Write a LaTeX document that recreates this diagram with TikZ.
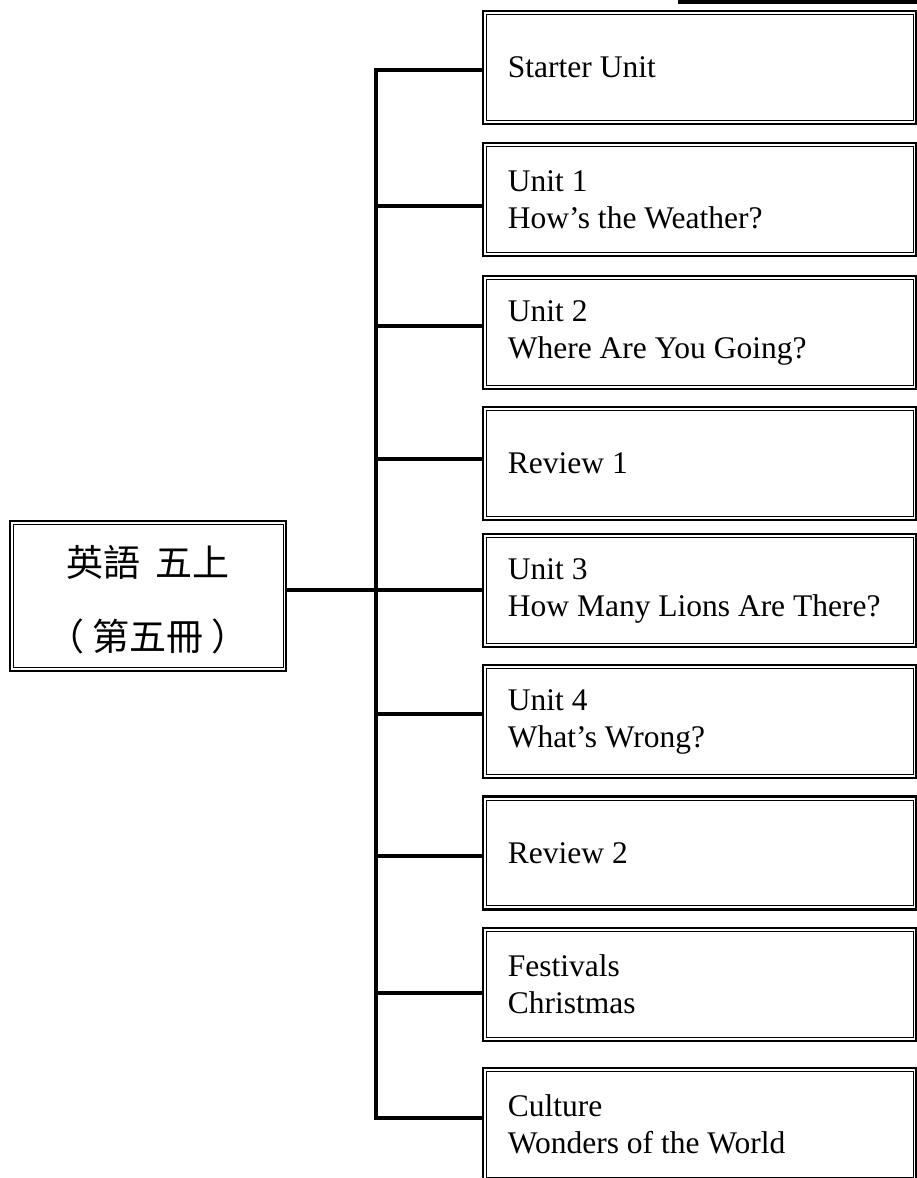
\documentclass[tikz,border=0pt]{standalone}
\usepackage{fontspec}
\setmainfont{Liberation Serif}
\newfontfamily\cjk{Noto Sans CJK TC}
\begin{document}
\begin{tikzpicture}[x=1pt,y=-1pt,
  unitbox/.style={draw, line width=2.6pt, minimum width=433pt, minimum height=113pt, inner sep=0pt},
  rootbox/.style={draw, line width=2.6pt, minimum width=276pt, minimum height=150pt, inner sep=0pt},
  innerline/.style={line width=1.3pt},
  lbl/.style={font=\fontsize{31.5}{37}\selectfont, align=left, inner sep=0pt, anchor=west},
  cjklbl/.style={font=\cjk\fontsize{37}{42}\selectfont, inner sep=0pt},
  conn/.style={line width=3.2pt},
  spine/.style={line width=4pt}
]
\useasboundingbox (0,0) rectangle (917,1178);
\fill (678,0) rectangle (917,4);

% root box
\node[rootbox] (root) at (148,596) {};
\draw[innerline] ([xshift=4.5pt,yshift=-5pt]root.north west) rectangle ([xshift=-3.8pt,yshift=4.5pt]root.south east);
\node[cjklbl] (r1) at (148,562) {英語\hspace{16pt}五上};
\node[cjklbl] (r2) at (148,636) {（\hspace{8pt}第五冊\hspace{8pt}）};

% unit boxes
\foreach \n/\c in {1/67.5, 2/199.5, 3/332.5, 4/463.5, 5/590.5, 6/721.5, 7/853, 8/984.5, 9/1124.5}{
  \node[unitbox] (b\n) at (699.5,\c) {};
  \draw[innerline] ([xshift=5pt,yshift=-5pt]b\n.north west) rectangle ([xshift=-3.8pt,yshift=5pt]b\n.south east);
}
\node[lbl] (t1) at ([xshift=26pt]b1.west) {Starter Unit};
\node[lbl] (t2) at ([xshift=26pt]b2.west) {Unit 1\\How’s the Weather?};
\node[lbl] (t3) at ([xshift=26pt]b3.west) {Unit 2\\Where Are You Going?};
\node[lbl] (t4) at ([xshift=26pt]b4.west) {Review 1};
\node[lbl] (t5) at ([xshift=26pt]b5.west) {Unit 3\\How Many Lions Are There?};
\node[lbl] (t6) at ([xshift=26pt]b6.west) {Unit 4\\What’s Wrong?};
\node[lbl] (t7) at ([xshift=26pt]b7.west) {Review 2};
\node[lbl] (t8) at ([xshift=26pt]b8.west) {Festivals\\Christmas};
\node[lbl] (t9) at ([xshift=26pt]b9.west) {Culture\\Wonders of the World};

% connectors
\foreach \n/\y in {1/70, 2/206, 3/326, 4/459, 5/590, 6/714, 7/856, 8/993, 9/1118}{
  \coordinate (j\n) at (376,\y);
  \draw[conn] (j\n) -- (j\n -| b\n.west);
}
\coordinate (sTop) at (376,68.4);
\coordinate (sBot) at (376,1119.6);
\draw[spine] (sTop) -- (sBot);
\draw[conn] (j5 -| root.east) -- (j5);
\end{tikzpicture}
\end{document}
